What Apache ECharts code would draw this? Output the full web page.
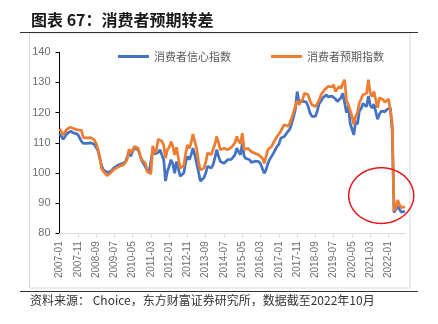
<!DOCTYPE html>
<html><head><meta charset="utf-8">
<script src="https://cdn.jsdelivr.net/npm/echarts@6/dist/echarts.min.js"></script>
<style>html,body{margin:0;padding:0;background:#fff}#c{width:438px;height:324px}</style>
</head><body><div id="c"></div>
<script>
// Monthly, 2007-01 .. 2022-10
const startYear = 2007, startMonth = 1, monthCount = 190;
const yTicks = [80, 90, 100, 110, 120, 130, 140];
const seriesNames = ['消费者信心指数', '消费者预期指数'];

const confidence = [
  // 2007
  113.0, 112.2, 111.2, 112.0, 113.0, 113.3, 113.8, 113.6, 113.2, 113.4, 112.8, 113.0,
  // 2008
  110.5, 109.8, 110.0, 109.8, 109.6, 110.0, 109.7, 109.5, 109.0, 107.5, 104.9, 102.5,
  // 2009
  101.0, 100.5, 100.2, 100.0, 100.5, 101.0, 101.8, 102.4, 102.6, 102.8, 103.0, 103.2,
  // 2010
  103.6, 104.2, 106.8, 105.5, 107.2, 108.2, 108.0, 107.7, 106.0, 104.1, 103.8, 102.0,
  // 2011
  100.7, 100.0, 99.9, 107.7, 106.3, 106.0, 106.8, 107.7, 106.0, 104.4, 97.3, 100.5,
  // 2012
  102.2, 104.4, 103.0, 99.9, 103.8, 101.5, 98.9, 99.5, 100.0, 103.5, 105.5, 104.4,
  // 2013
  106.0, 108.2, 106.0, 103.2, 100.5, 97.3, 97.5, 98.4, 100.0, 102.2, 102.0, 101.6,
  // 2014
  102.7, 105.0, 107.7, 105.5, 103.8, 104.2, 103.2, 103.5, 104.4, 104.0, 104.5, 104.9,
  // 2015
  106.0, 108.2, 107.0, 106.0, 109.8, 105.5, 104.8, 105.0, 104.4, 103.5, 103.8, 103.9,
  // 2016
  104.0, 103.8, 103.0, 102.7, 99.9, 101.0, 103.2, 104.5, 105.5, 106.5, 107.7, 108.8,
  // 2017
  109.5, 111.5, 111.8, 112.1, 113.0, 113.8, 114.5, 114.9, 118.5, 121.0, 127.0, 123.7,
  // 2018
  123.2, 123.8, 124.3, 123.5, 122.1, 120.0, 118.8, 119.0, 118.8, 120.5, 123.0, 123.7,
  // 2019
  124.9, 125.5, 125.9, 125.2, 124.9, 125.5, 125.9, 124.5, 123.7, 124.2, 124.9, 126.4,
  // 2020
  126.4, 120.0, 122.2, 116.4, 115.8, 112.6, 117.2, 116.1, 120.5, 121.3, 123.0, 122.6,
  // 2021
  122.0, 125.5, 122.5, 121.5, 122.8, 123.0, 117.8, 119.5, 120.5, 120.2, 120.3, 121.0,
  // 2022
  121.5, 121.6, 114.0, 86.9, 86.8, 89.0, 87.9, 87.0, 87.5, 87.3
];

const expectation = [
  // 2007
  114.6, 113.8, 112.6, 113.5, 114.5, 114.9, 115.2, 115.0, 114.6, 114.8, 114.3, 114.6,
  // 2008
  114.1, 111.7, 111.5, 111.6, 111.4, 111.7, 111.4, 111.0, 109.8, 108.0, 105.4, 101.5,
  // 2009
  100.5, 100.0, 99.1, 99.6, 100.0, 100.8, 101.3, 101.6, 102.0, 102.3, 102.5, 102.7,
  // 2010
  103.5, 104.4, 107.9, 106.6, 107.5, 108.8, 108.6, 108.2, 106.0, 104.4, 104.0, 103.2,
  // 2011
  100.5, 99.9, 99.7, 109.0, 106.6, 107.7, 111.2, 111.5, 110.5, 109.3, 104.9, 107.7,
  // 2012
  108.5, 110.4, 108.8, 106.0, 108.5, 105.0, 101.6, 102.0, 102.4, 106.5, 109.3, 108.2,
  // 2013
  110.0, 112.9, 110.5, 108.2, 104.0, 101.0, 101.0, 101.6, 103.5, 106.6, 106.3, 106.0,
  // 2014
  106.6, 109.5, 112.1, 110.0, 107.7, 108.0, 108.2, 108.0, 107.7, 108.0, 108.5, 108.8,
  // 2015
  110.0, 112.1, 110.5, 109.8, 113.2, 107.7, 108.0, 108.2, 108.2, 107.0, 106.6, 106.5,
  // 2016
  106.3, 106.0, 105.5, 104.9, 103.2, 105.5, 107.7, 108.2, 108.8, 110.0, 111.0, 112.1,
  // 2017
  112.5, 113.8, 115.0, 116.0, 115.5, 115.5, 116.5, 117.1, 120.0, 122.1, 124.0, 122.6,
  // 2018
  123.7, 124.5, 126.4, 126.0, 125.9, 124.0, 122.6, 122.1, 122.0, 122.1, 124.0, 125.9,
  // 2019
  126.5, 127.6, 128.0, 128.7, 128.1, 128.5, 129.2, 127.0, 127.5, 128.7, 128.0, 129.8,
  // 2020
  130.9, 124.0, 122.6, 122.1, 118.8, 116.1, 118.8, 120.0, 123.2, 124.5, 125.9, 126.0,
  // 2021
  126.4, 130.9, 126.4, 125.3, 127.0, 126.5, 121.6, 124.9, 124.5, 124.3, 123.5, 123.7,
  // 2022
  124.5, 124.9, 116.5, 87.4, 88.5, 91.0, 89.5, 88.5, 89.0, 88.8
];

const categories = [];
for (let i = 0; i < monthCount; i++) {
  const t = (startMonth - 1) + i;
  const y = startYear + Math.floor(t / 12), m = (t % 12) + 1;
  categories.push(y + '-' + (m < 10 ? '0' + m : m));
}

const chart = echarts.init(document.getElementById('c'), null, {renderer: 'canvas'});
const gray = '#6e6e6e';
const option = {
  animation: false,
  backgroundColor: '#fff',
  textStyle: {fontFamily: 'Liberation Sans, Arial, sans-serif'},
  grid: {left: 59.5, right: 33, top: 52.3, bottom: 90.7, containLabel: false},
  legend: {
    left: 113, top: 46, itemGap: 40, itemWidth: 31, itemHeight: 3, icon: 'rect',
    textStyle: {color: '#595959', fontSize: 11, fontFamily: 'Noto Sans CJK SC'},
    data: seriesNames
  },
  xAxis: {
    type: 'category', data: categories, boundaryGap: false,
    axisLine: {lineStyle: {color: '#d9d9d9', width: 1}},
    axisTick: {interval: 9, length: 4, lineStyle: {color: '#d9d9d9'}},
    axisLabel: {interval: 9, rotate: 90, color: gray, fontSize: 10, margin: 8}
  },
  yAxis: {
    type: 'value', min: yTicks[0], max: yTicks[yTicks.length - 1], interval: 10,
    axisLine: {show: true, lineStyle: {color: '#000', width: 1}},
    axisTick: {show: true, length: 4, lineStyle: {color: '#000'}},
    splitLine: {show: false},
    axisLabel: {color: gray, fontSize: 11, margin: 9}
  },
  series: [
    {name: seriesNames[0], type: 'line', data: confidence, showSymbol: false, symbol: 'none',
     lineStyle: {color: '#4472C4', width: 2.75}, itemStyle: {color: '#4472C4'}},
    {name: seriesNames[1], type: 'line', data: expectation, showSymbol: false, symbol: 'none',
     lineStyle: {color: '#ED7D31', width: 2.75}, itemStyle: {color: '#ED7D31'}}
  ],
  graphic: [
    {type: 'text', left: 31, top: 12, style: {text: '图表 67：消费者预期转差', font: 'bold 16px "Noto Sans CJK SC"', fill: '#1a1a1a'}},
    {type: 'line', shape: {x1: 20, y1: 32.5, x2: 418, y2: 32.5}, style: {stroke: '#333', lineWidth: 1}},
    {type: 'rect', shape: {x: 29.5, y: 33, width: 380.5, height: 255}, style: {fill: 'none', stroke: '#d9d9d9', lineWidth: 1}, z: -1},
    {type: 'line', shape: {x1: 20, y1: 291.5, x2: 418, y2: 291.5}, style: {stroke: '#333', lineWidth: 1}},
    {type: 'text', left: 30, top: 294, style: {text: '资料来源： Choice，东方财富证券研究所，数据截至2022年10月', font: '12px "Noto Sans CJK SC"', fill: '#333'}}
  ]
};
chart.setOption(option);

// annotation ellipse around the 2022 drop
const c = chart.convertToPixel({gridIndex: 0}, [176, 92.5]);
const rx = 32.5, ry = 27.8, pts = [];
for (let k = 0; k < 96; k++) {
  const a = k / 96 * Math.PI * 2;
  pts.push([c[0] + rx * Math.cos(a), c[1] + ry * Math.sin(a)]);
}
chart.setOption({graphic: option.graphic.concat([
  {type: 'polygon', shape: {points: pts}, style: {fill: 'none', stroke: '#e8161b', lineWidth: 1.5}, z: 10}
])});
</script></body></html>
